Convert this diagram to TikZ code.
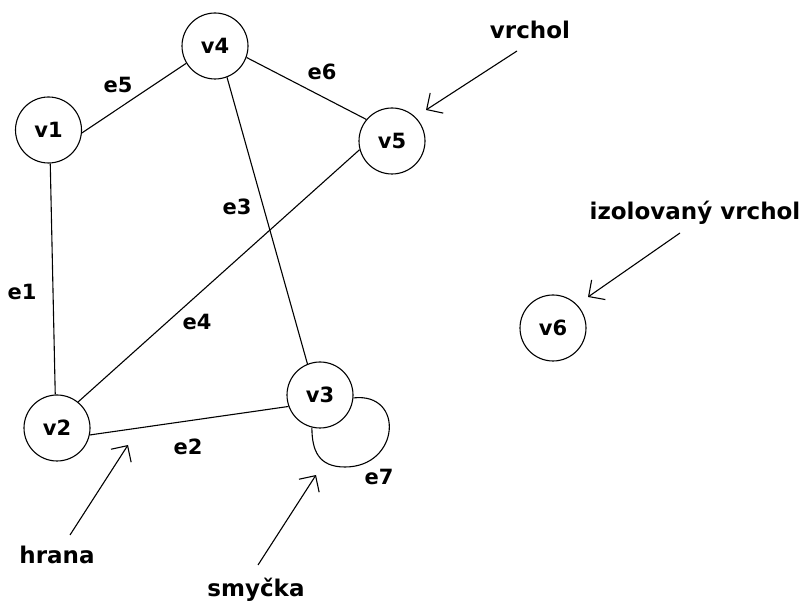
\documentclass[tikz,border=0pt]{standalone}
\usepackage{fontspec}
\setmainfont{DejaVu Sans}
\usetikzlibrary{arrows.meta}
\begin{document}
\begin{tikzpicture}[x=1pt,y=-1pt,
  vert/.style={circle,draw,line width=1.1pt,minimum size=66pt,inner sep=0pt,font=\fontsize{21}{21}\selectfont\bfseries},
  edge/.style={line width=1.1pt},
  elabel/.style={font=\fontsize{21}{21}\selectfont\bfseries,inner sep=0pt},
  note/.style={font=\fontsize{23}{23}\selectfont\bfseries,inner sep=0pt},
  pointer/.style={line width=1.1pt,-{Straight Barb[length=12pt,width=24pt,line width=1.1pt]}}]
\useasboundingbox (0,0) rectangle (801,601);
\node[vert] (v1) at (48.5,130) {v1};
\node[vert] (v4) at (215,46) {v4};
\node[vert] (v5) at (392,141) {v5};
\node[vert] (v2) at (57,428) {v2};
\node[vert] (v3) at (320,395) {v3};
\node[vert] (v6) at (553,328) {v6};
\draw[edge] (v1.-5) -- (v4.211);
\draw[edge] (v4.-20) -- (v5.140);
\draw[edge] (v4.-69) -- (v3.112);
\draw[edge] (v5.-165) -- (v2.51);
\draw[edge] (v1.-87) -- (v2.93);
\draw[edge] (v2.-12) -- (v3.200);
\draw[edge] (v3.-5) .. controls (405,392) and (400,467) .. (345,467)
  .. controls (318,467) and (312,450) .. (v3.-104);
\node[elabel] (le5) at (118,85) {e5};
\node[elabel] (le6) at (322,72) {e6};
\node[elabel] (le3) at (237,207) {e3};
\node[elabel] (le1) at (22,292) {e1};
\node[elabel] (le4) at (197,322) {e4};
\node[elabel] (le2) at (188,447) {e2};
\node[elabel] (le7) at (379,477) {e7};
\node[note] (nv) at (530,30) {vrchol};
\node[note] (niv) at (695,213) {izolovaný vrchol};
\node[note] (nh) at (57,555) {hrana};
\node[note] (ns) at (256,590) {smyčka};
\coordinate (tv) at (426,110);
\coordinate (tiv) at (588,297);
\coordinate (th) at (128,445);
\coordinate (ts) at (316,475);
\draw[pointer] (517,51) -- (tv);
\draw[pointer] (680,233) -- (tiv);
\draw[pointer] (70,535) -- (th);
\draw[pointer] (258,565) -- (ts);
\end{tikzpicture}
\end{document}
